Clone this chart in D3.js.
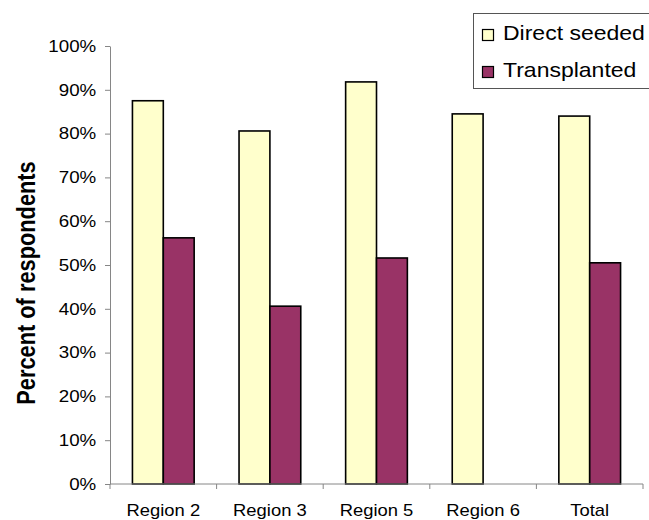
<!DOCTYPE html>
<html>
<head>
<meta charset="utf-8">
<script src="https://cdn.jsdelivr.net/npm/d3@7"></script>
<style>
  html, body { margin: 0; padding: 0; background: #fff; }
  svg { display: block; font-family: "Liberation Sans", Arial, sans-serif; }
</style>
</head>
<body>
<svg id="chart" width="649" height="520"></svg>
<script>
// Share of respondents by region and crop establishment method
const categories = ["Region 2", "Region 3", "Region 5", "Region 6", "Total"];
const seriesNames = ["Direct seeded", "Transplanted"];
const directSeeded = [0.875, 0.806, 0.918, 0.845, 0.840];
const transplanted = [0.562, 0.406, 0.516, null, 0.505];
const yTicks = [0, 0.1, 0.2, 0.3, 0.4, 0.5, 0.6, 0.7, 0.8, 0.9, 1.0];
const colors = ["#FFFFCC", "#993366"];

const svg = d3.select("#chart");
const stretch = 1.15; // horizontal text stretch
const plotLeft = 110, plotRight = 643, plotTop = 46, plotBottom = 484;

const x = d3.scaleBand().domain(categories).range([plotLeft, plotRight]).padding(0);
const inner = d3.scaleBand().domain(seriesNames)
  .range([x.bandwidth() * 0.2105, x.bandwidth() * 0.7895]).padding(0);
const y = d3.scaleLinear().domain([0, 1]).range([plotBottom, plotTop]);

const rows = categories.map((c, i) => ({
  category: c,
  values: [
    { name: seriesNames[0], value: directSeeded[i], color: colors[0] },
    { name: seriesNames[1], value: transplanted[i], color: colors[1] }
  ]
}));

// Y axis
const yAxis = d3.axisLeft(y).tickValues(yTicks).tickFormat(d3.format(".0%"))
  .tickSize(5).tickSizeOuter(0).tickPadding(7);
const gy = svg.append("g").attr("transform", `translate(${plotLeft},0)`).call(yAxis);
gy.attr("font-family", null).attr("font-size", null);
gy.select(".domain").attr("stroke", "#868686");
gy.selectAll(".tick line").attr("stroke", "#868686");
gy.selectAll(".tick text")
  .attr("fill", "#000")
  .style("font-size", "16.3px")
  .attr("transform", `scale(${stretch},1)`);

// Bars
const groups = svg.append("g").selectAll("g").data(rows).join("g")
  .attr("transform", d => `translate(${x(d.category)},0)`);
groups.selectAll("rect")
  .data(d => d.values.filter(v => v.value != null))
  .join("rect")
  .attr("x", v => inner(v.name))
  .attr("width", inner.bandwidth())
  .attr("y", v => y(v.value))
  .attr("height", v => y(0) - y(v.value))
  .attr("fill", v => v.color)
  .attr("stroke", "#000")
  .attr("stroke-width", 1.6);

// X axis baseline with ticks at category boundaries
const gx = svg.append("g");
gx.append("line")
  .attr("x1", plotLeft).attr("x2", plotRight)
  .attr("y1", y(0)).attr("y2", y(0))
  .attr("stroke", "#868686");
const boundaries = categories.map(c => x(c)).concat([x.range()[1]]);
gx.selectAll(".xtick").data(boundaries).join("line")
  .attr("class", "xtick")
  .attr("x1", d => d).attr("x2", d => d)
  .attr("y1", y(0)).attr("y2", y(0) + 5)
  .attr("stroke", "#868686");
gx.selectAll(".xlabel").data(categories).join("text")
  .attr("class", "xlabel")
  .attr("text-anchor", "middle")
  .style("font-size", "16px")
  .attr("transform", d => `translate(${x(d) + x.bandwidth() / 2},516) scale(${stretch},1)`)
  .text(d => d);

// Y axis title
svg.append("text")
  .attr("text-anchor", "middle")
  .style("font-size", "21.8px")
  .style("font-weight", "bold")
  .attr("transform", `translate(35,${(plotTop + plotBottom) / 2 + 18}) scale(${stretch},1) rotate(-90)`)
  .text("Percent of respondents");

// Legend
const legend = svg.append("g");
legend.append("rect")
  .attr("x", 473.5).attr("y", 13.5)
  .attr("width", 190).attr("height", 75)
  .attr("fill", "#fff").attr("stroke", "#555").attr("stroke-width", 1);
const items = legend.selectAll(".item").data(seriesNames.map((n, i) => ({ name: n, color: colors[i] })))
  .join("g").attr("class", "item")
  .attr("transform", (d, i) => `translate(0,${i * 37})`);
items.append("rect")
  .attr("x", 482.5).attr("y", 29.5)
  .attr("width", 11).attr("height", 11)
  .attr("fill", d => d.color).attr("stroke", "#000").attr("stroke-width", 1.2);
items.append("text")
  .style("font-size", "20px")
  .attr("transform", `translate(503,39.5) scale(${stretch},1)`)
  .text(d => d.name);
</script>
</body>
</html>
